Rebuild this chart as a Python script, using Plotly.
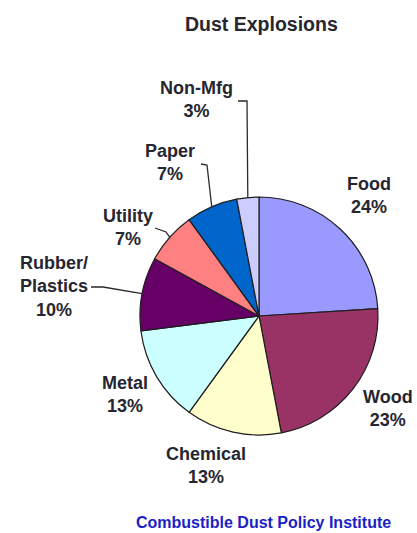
import math
import plotly.graph_objects as go

# ---- data ----
labels = ["Food", "Wood", "Chemical", "Metal", "Rubber/<br>Plastics", "Utility", "Paper", "Non-Mfg"]
values = [24, 23, 13, 13, 10, 7, 7, 3]
colors = ["#9999FF", "#993366", "#FFFFCC", "#CCFFFF", "#660066", "#FF8080", "#0066CC", "#CCCCFF"]
title_text = "Dust Explosions"
footer_text = "Combustible Dust Policy Institute"

# ---- layout constants (pixels) ----
W, H = 417, 533
CX, CY, R = 259, 316, 119

def px(x):
    return x / W

def py(y):
    return 1 - y / H

fig = go.Figure(go.Pie(
    labels=labels,
    values=values,
    sort=False,
    direction="clockwise",
    rotation=0,
    marker=dict(colors=colors, line=dict(color="#1e1e1e", width=1.2)),
    textinfo="none",
    hoverinfo="label+percent",
    showlegend=False,
    domain=dict(x=[px(CX - R), px(CX + R)], y=[py(CY + R), py(CY - R)]),
))

# label text positions (pixel centres) per slice
label_pos = {
    "Food": (369, 195),
    "Wood": (388, 408),
    "Chemical": (206, 465),
    "Metal": (125, 394),
    "Rubber/<br>Plastics": (54, 286),
    "Utility": (128, 227),
    "Paper": (170, 163),
    "Non-Mfg": (196, 100),
}
# leader line elbow points (pixels), ending at slice edge computed from data
leader_pts = {
    "Rubber/<br>Plastics": [(91, 287), (103, 287)],
    "Utility": [(155, 228), (166, 232)],
    "Paper": [(201, 164), (207, 165)],
    "Non-Mfg": [(238, 101), (247, 101)],
}

total = sum(values)
cum = 0
annotations = []
shapes = []
for lab, v in zip(labels, values):
    mid = (cum + v / 2) / total
    cum += v
    ang = 2 * math.pi * mid
    ex = CX + R * math.sin(ang)
    ey = CY - R * math.cos(ang)
    pct = round(100 * v / total)
    x, y = label_pos[lab]
    annotations.append(dict(
        x=px(x), y=py(y), xref="paper", yref="paper",
        text=f"<b>{lab}<br>{pct}%</b>", showarrow=False,
        xanchor="center", yanchor="middle", align="center",
        font=dict(family="Liberation Sans, Arial", size=18, color="#262630"),
    ))
    if lab in leader_pts:
        pts = leader_pts[lab] + [(ex, ey)]
        path = "M " + " L ".join(f"{px(a):.5f},{py(b):.5f}" for a, b in pts)
        shapes.append(dict(type="path", xref="paper", yref="paper", path=path,
                           line=dict(color="#2a2a2a", width=1.3)))

annotations.append(dict(
    x=px(261), y=py(24), xref="paper", yref="paper",
    text=f"<b>{title_text}</b>", showarrow=False, xanchor="center", yanchor="middle",
    font=dict(family="Liberation Sans, Arial", size=19.5, color="#262630"),
))
annotations.append(dict(
    x=px(263), y=py(522), xref="paper", yref="paper",
    text=f"<b>{footer_text}</b>", showarrow=False, xanchor="center", yanchor="middle",
    font=dict(family="Liberation Sans, Arial", size=16, color="#1a1fc8"),
))

fig.update_layout(
    width=W, height=H,
    margin=dict(l=0, r=0, t=0, b=0),
    paper_bgcolor="white", plot_bgcolor="white",
    annotations=annotations, shapes=shapes,
)

fig.write_html("out.html", config={"displayModeBar": False})
